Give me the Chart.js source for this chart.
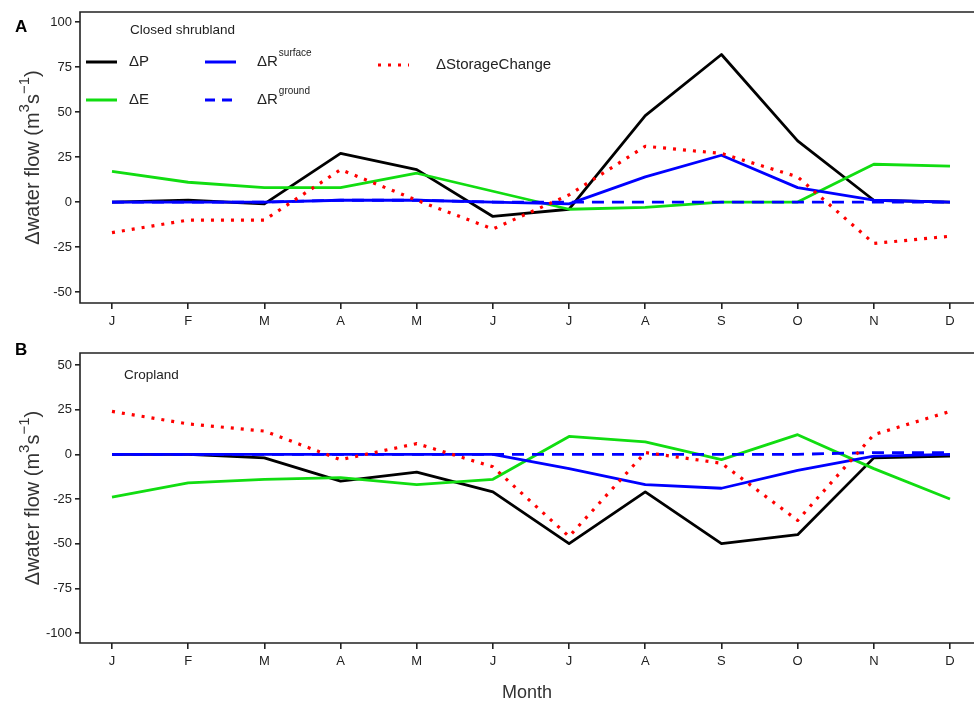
<!DOCTYPE html>
<html>
<head>
<meta charset="utf-8">
<script src="https://cdn.jsdelivr.net/npm/chart.js@4"></script>
<style>
  body { margin: 0; background: #fff; width: 974px; height: 704px; position: relative; overflow: hidden; }
  canvas { position: absolute; left: 0; }
</style>
</head>
<body>
<canvas id="chartA" width="974" height="335" style="top:0"></canvas>
<canvas id="chartB" width="974" height="369" style="top:335px"></canvas>
<script>
// month labels on the x axis
var months = ['J', 'F', 'M', 'A', 'M', 'J', 'J', 'A', 'S', 'O', 'N', 'D']

// panel A: closed shrubland
var shrubP = [0, 1, -1, 27, 18, -8, -4, 48, 82, 34, 1, 0]
var shrubE = [17, 11, 8, 8, 16, 6, -4, -3, 0, 0, 21, 20]
var shrubRsurface = [0, 0, 0, 1, 1, 0, -1, 14, 26, 8, 1, 0]
var shrubRground = [0, 0, 0, 1, 1, 0, 0, 0, 0, 0, 0, 0]
var shrubStorage = [-17, -10, -10, 18, 1, -15, 4, 31, 27, 14, -23, -19]
var shrubTicks = [-50, -25, 0, 25, 50, 75, 100]

// panel B: cropland
var cropP = [0, 0, -2, -15, -10, -21, -50, -21, -50, -45, -2, -1]
var cropE = [-24, -16, -14, -13, -17, -14, 10, 7, -3, 11, -8, -25]
var cropRsurface = [0, 0, 0, 0, 0, 0, -8, -17, -19, -9, -1, 0]
var cropRground = [0, 0, 0, 0, 0, 0, 0, 0, 0, 0, 1, 1]
var cropStorage = [24, 17, 13, -3, 6, -7, -46, 1, -5, -37, 11, 24]
var cropTicks = [-100, -75, -50, -25, 0, 25, 50]

var FONT = "'Liberation Sans', Arial, sans-serif"
var GREEN = '#11dd11'

function toPoints(values) {
  return values.map(function (v, i) { return { x: i, y: v } })
}

function makeDatasets(p, e, rs, rg, st) {
  var base = { pointRadius: 0, tension: 0, fill: false, borderJoinStyle: 'round' }
  return [
    Object.assign({ label: 'ΔStorageChange', data: toPoints(st), borderColor: '#ff0000', borderWidth: 3.2, borderDash: [3, 7], order: 0 }, base),
    Object.assign({ label: 'ΔRground', data: toPoints(rg), borderColor: '#0000ff', borderWidth: 2.8, borderDash: [12, 8], order: 1 }, base),
    Object.assign({ label: 'ΔRsurface', data: toPoints(rs), borderColor: '#0000ff', borderWidth: 2.8, order: 2 }, base),
    Object.assign({ label: 'ΔE', data: toPoints(e), borderColor: GREEN, borderWidth: 2.8, order: 3 }, base),
    Object.assign({ label: 'ΔP', data: toPoints(p), borderColor: '#000000', borderWidth: 2.8, order: 4 }, base)
  ]
}

// y axis title with real superscripts, drawn in pieces
function drawYTitle(ctx, cx, cy) {
  var parts = [
    { t: 'Δwater flow (m', size: 20, dy: 0 },
    { t: '3', size: 15, dy: -10 },
    { t: 's', size: 20, dy: 0 },
    { t: '−1', size: 15, dy: -10 },
    { t: ')', size: 20, dy: 0 }
  ]
  var total = 0
  parts.forEach(function (p) {
    ctx.font = p.size + 'px ' + FONT
    p.w = ctx.measureText(p.t).width
    total += p.w
  })
  ctx.save()
  ctx.translate(cx, cy)
  ctx.rotate(-Math.PI / 2)
  ctx.textAlign = 'left'
  ctx.textBaseline = 'alphabetic'
  ctx.fillStyle = '#333'
  var x = -total / 2
  parts.forEach(function (p) {
    ctx.font = p.size + 'px ' + FONT
    ctx.fillText(p.t, x, p.dy)
    x += p.w
  })
  ctx.restore()
}

// box, panel letter, panel title, y title and (for panel A) the legend
var panelDecor = {
  id: 'panelDecor',
  afterDraw: function (chart, args, opts) {
    var ctx = chart.ctx
    var a = chart.chartArea
    ctx.save()
    ctx.strokeStyle = '#222'
    ctx.lineWidth = 1.6
    ctx.beginPath()
    ctx.moveTo(a.right + 2, a.top)
    ctx.lineTo(a.left, a.top)
    ctx.lineTo(a.left, a.bottom)
    ctx.lineTo(a.right + 2, a.bottom)
    ctx.stroke()

    ctx.fillStyle = '#000'
    ctx.textBaseline = 'middle'
    ctx.textAlign = 'left'
    ctx.font = 'bold 17px ' + FONT
    ctx.fillText(opts.letter, 15, opts.letterY)

    ctx.fillStyle = '#222'
    ctx.font = '13.5px ' + FONT
    ctx.fillText(opts.title, opts.titleX, opts.titleY)

    drawYTitle(ctx, 39, (a.top + a.bottom) / 2)

    if (opts.legend) {
      var items = [
        { x: 86, y: 62, color: '#000', dash: [], text: 'ΔP' },
        { x: 86, y: 100, color: GREEN, dash: [], text: 'ΔE' },
        { x: 205, y: 62, color: '#0000ff', dash: [], text: 'ΔR', sup: 'surface' },
        { x: 205, y: 100, color: '#0000ff', dash: [10, 7], text: 'ΔR', sup: 'ground' },
        { x: 378, y: 65, color: '#ff0000', dash: [3, 7], text: 'ΔStorageChange', tx: 436 }
      ]
      items.forEach(function (it) {
        ctx.beginPath()
        ctx.setLineDash(it.dash)
        ctx.strokeStyle = it.color
        ctx.lineWidth = 3
        ctx.moveTo(it.x, it.y)
        ctx.lineTo(it.x + 31, it.y)
        ctx.stroke()
        ctx.setLineDash([])
        var tx = it.tx || it.x + (it.sup ? 52 : 43)
        ctx.fillStyle = '#222'
        ctx.font = '15px ' + FONT
        ctx.fillText(it.text, tx, it.y)
        if (it.sup) {
          var w = ctx.measureText(it.text).width
          ctx.font = '10px ' + FONT
          ctx.fillText(it.sup, tx + w + 1, it.y - 9)
        }
      })
    }
    ctx.restore()
  }
}

function makeChart(id, datasets, ticks, yMin, yMax, padTop, xHeight, decor, showMonth) {
  var ctx = document.getElementById(id).getContext('2d')
  return new Chart(ctx, {
    type: 'line',
    data: { datasets: datasets },
    options: {
      responsive: false,
      animation: false,
      layout: { padding: { top: padTop, right: 0, left: 0, bottom: 0 } },
      plugins: {
        legend: { display: false },
        tooltip: { enabled: false },
        panelDecor: decor
      },
      scales: {
        x: {
          type: 'linear',
          min: -0.42,
          max: 11.315,
          afterBuildTicks: function (scale) {
            scale.ticks = months.map(function (m, i) { return { value: i } })
          },
          afterFit: function (scale) { scale.height = xHeight },
          ticks: {
            autoSkip: false,
            maxRotation: 0,
            padding: 5,
            color: '#222',
            font: { family: FONT, size: 13 },
            callback: function (v) { return months[v] }
          },
          grid: { drawOnChartArea: false, tickLength: 6, color: '#222', lineWidth: 1.6 },
          border: { display: false },
          title: {
            display: showMonth,
            text: 'Month',
            color: '#333',
            font: { family: FONT, size: 18 },
            padding: { top: 0, bottom: 0 }
          }
        },
        y: {
          min: yMin,
          max: yMax,
          afterBuildTicks: function (scale) {
            scale.ticks = ticks.map(function (v) { return { value: v } })
          },
          afterFit: function (scale) { scale.width = 80 },
          ticks: {
            padding: 3,
            color: '#222',
            font: { family: FONT, size: 13 }
          },
          grid: { drawOnChartArea: false, tickLength: 5, color: '#222', lineWidth: 1.6 },
          border: { display: false }
        }
      }
    },
    plugins: [panelDecor]
  })
}

makeChart('chartA',
  makeDatasets(shrubP, shrubE, shrubRsurface, shrubRground, shrubStorage),
  shrubTicks, -56.1, 105.6, 12, 32,
  { letter: 'A', letterY: 27, title: 'Closed shrubland', titleX: 130, titleY: 30, legend: true },
  false)

makeChart('chartB',
  makeDatasets(cropP, cropE, cropRsurface, cropRground, cropStorage),
  cropTicks, -105.6, 56.7, 18, 61,
  { letter: 'B', letterY: 15, title: 'Cropland', titleX: 124, titleY: 40, legend: false },
  true)
</script>
</body>
</html>
